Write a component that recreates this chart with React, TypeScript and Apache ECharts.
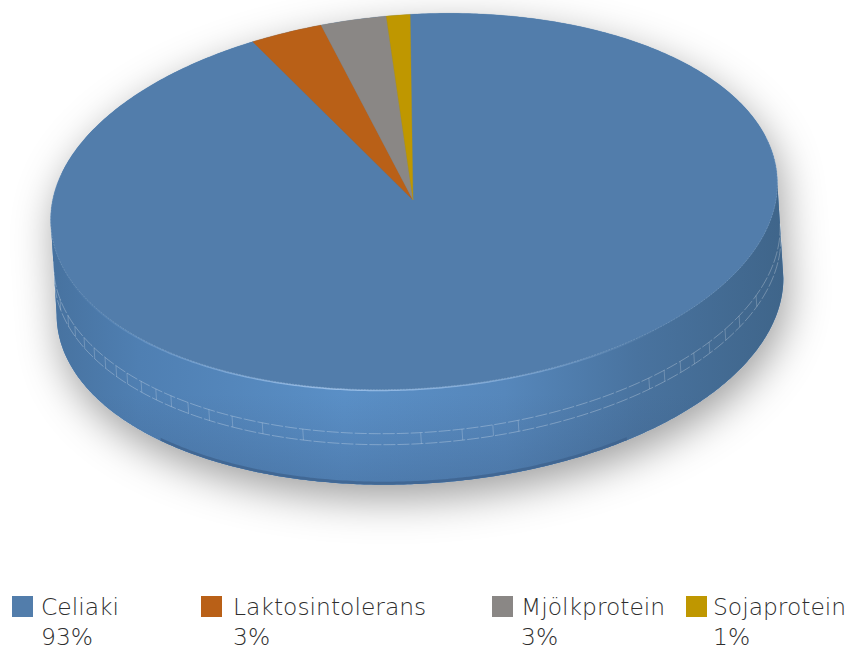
import React, { useEffect, useRef } from "react";
import * as echarts from "echarts";

const categories = ["Celiaki", "Laktosintolerans", "Mjölkprotein", "Sojaprotein"];
const values = [92.85, 3.2, 2.9, 1.05];
const colors = ["#527dab", "#b96017", "#8a8785", "#bf9700"];
const legendLeft = [12, 201, 492, 686];
const percentLeft = [41, 233, 521, 713];
const tickXs = [60, 68, 75, 84, 94, 105, 116, 127, 141, 156, 171, 188, 209, 232, 262, 303, 421, 462, 493, 518, 649, 664, 680, 694, 709, 725, 739, 756];

const FONT = "DejaVu Sans";
const FONT_SIZE = 23.4;
const START = (-88.6 * Math.PI) / 180;
const TILT = 0.068;
const A = 364;
const B = 187;
const CX = 414;
const CY = 201.5;
const DEPTH = 95;
const SHIFT = 6;

type P = [number, number];
const pt = (t: number, d = 0): P => {
  const c = Math.cos(t);
  const s = Math.sin(t);
  const ox = CX + (d * SHIFT) / DEPTH;
  const oy = CY + d;
  return [ox + A * c * Math.cos(TILT) + B * s * Math.sin(TILT), oy - A * c * Math.sin(TILT) + B * s * Math.cos(TILT)];
};
const arc = (t0: number, t1: number, d = 0, step = 0.01): P[] => {
  const n = Math.max(2, Math.ceil(Math.abs(t1 - t0) / step));
  const out: P[] = [];
  for (let i = 0; i <= n; i++) out.push(pt(t0 + ((t1 - t0) * i) / n, d));
  return out;
};
const T_R = Math.atan((B * Math.tan(TILT)) / A);
const T_L = T_R + Math.PI;

const total = values.reduce((a, b) => a + b, 0);
const startOf = (i: number) => {
  let sum = 0;
  for (let k = 0; k < i; k++) sum += values[k];
  return START + (sum / total) * Math.PI * 2;
};

const frontPoint = (x: number, d: number): [number, P] => {
  let best = T_R;
  let bestDist = Infinity;
  for (let t = T_R; t <= T_L; t += 0.002) {
    const dist = Math.abs(pt(t, d)[0] - x);
    if (dist < bestDist) {
      bestDist = dist;
      best = t;
    }
  }
  return [best, pt(best, d)];
};

const lineStyle = (alpha: number, dash?: number[]) => ({
  fill: null as any,
  stroke: `rgba(255,255,255,${alpha})`,
  lineWidth: 0.6,
  lineDash: dash,
});

function renderWall() {
  const outline = [...arc(T_L, T_R + Math.PI * 2), ...arc(T_R, T_L, DEPTH)];
  const band = [...arc(T_R, T_L), ...arc(T_L, T_R, DEPTH)];
  const grad = new echarts.graphic.LinearGradient(0, 0, 1, 0, [
    { offset: 0, color: "#47729f" },
    { offset: 0.12, color: "#4f7fb2" },
    { offset: 0.4, color: "#5a8fc6" },
    { offset: 0.62, color: "#5687bb" },
    { offset: 0.8, color: "#49739f" },
    { offset: 1, color: "#3f658a" },
  ]);
  const shade = new echarts.graphic.LinearGradient(0, 0, 0, 1, [
    { offset: 0, color: "rgba(60,90,130,0)" },
    { offset: 0.7, color: "rgba(60,90,130,0)" },
    { offset: 1, color: "rgba(50,80,120,0.3)" },
  ]);
  const glow = new echarts.graphic.LinearGradient(0, 0, 1, 0, [
    { offset: 0, color: "rgba(150,190,235,0)" },
    { offset: 0.38, color: "rgba(160,195,235,0.9)" },
    { offset: 0.65, color: "rgba(160,195,235,0.5)" },
    { offset: 0.85, color: "rgba(160,195,235,0)" },
    { offset: 1, color: "rgba(160,195,235,0)" },
  ]);
  const rim = [...arc(1.0, 2.4, DEPTH), ...arc(2.4, 1.0, DEPTH - 3)];
  const children: any[] = [
    {
      type: "polygon",
      shape: { points: outline },
      style: { fill: "#4f7dab", shadowBlur: 42, shadowColor: "rgba(0,0,0,0.38)", shadowOffsetY: 14, shadowOffsetX: 4 },
    },
    { type: "polygon", shape: { points: band }, style: { fill: grad } },
    { type: "polygon", shape: { points: band }, style: { fill: shade } },
    { type: "polygon", shape: { points: rim }, style: { fill: "rgba(62,98,140,0.75)" } },
    { type: "polyline", shape: { points: arc(0.3, 2.9, 0) }, style: { fill: null, stroke: glow, lineWidth: 3 } },
    { type: "polyline", shape: { points: arc(T_R - 0.02, T_L + 0.02, 44) }, style: lineStyle(0.45, [12, 2]) },
    { type: "polyline", shape: { points: arc(T_R - 0.02, T_L + 0.02, 55) }, style: lineStyle(0.45, [12, 2]) },
  ];
  tickXs.forEach((x) => {
    const [t] = frontPoint(x, 44);
    children.push({ type: "line", shape: { x1: pt(t, 44)[0], y1: pt(t, 44)[1], x2: pt(t, 55)[0], y2: pt(t, 55)[1] }, style: lineStyle(0.35) });
  });
  return { type: "group", children };
}

const renderSlice = (i: number) => (_p: any, api: any) => {
  const sweep = (api.value(0) / total) * Math.PI * 2;
  const s = startOf(i);
  const points: P[] = [[CX - 1, CY - 1.5], ...arc(s, s + sweep)];
  return {
    type: "polygon",
    shape: { points },
    style: { fill: colors[i], stroke: colors[i], lineWidth: 0.3 },
  };
};

function renderEdge() {
  return {
    type: "polyline",
    shape: { points: arc(T_R - 0.25, T_L + 0.25) },
    style: lineStyle(0.25, [2, 1]),
  };
}

export default function App() {
  const ref = useRef<HTMLDivElement>(null);
  useEffect(() => {
    const chart = echarts.init(ref.current!, undefined, { renderer: "svg" });
    chart.setOption({
      animation: false,
      backgroundColor: "#ffffff",
      legend: categories.map((c, i) => ({
        data: [c],
        left: legendLeft[i],
        top: 595,
        padding: 0,
        icon: "rect",
        itemWidth: 21,
        itemHeight: 21,
        itemGap: 0,
        selectedMode: false,
        textStyle: { fontFamily: FONT, fontWeight: 200, fontSize: FONT_SIZE, color: "#2e2e2e", padding: [0, 0, 0, percentLeft[i] - legendLeft[i] - 26] },
      })),
      graphic: categories.map((_, i) => ({
        type: "text",
        left: percentLeft[i],
        top: 625,
        style: { text: `${Math.round(values[i])}%`, fontFamily: FONT, fontWeight: 200, fontSize: FONT_SIZE, fill: "#2e2e2e" },
      })),
      series: [
        { type: "custom", name: "wall", coordinateSystem: "none", silent: true, data: [[1]], renderItem: renderWall },
        ...categories.map((c, i) => ({
          type: "custom",
          name: c,
          coordinateSystem: "none",
          silent: true,
          data: [[values[i]]],
          itemStyle: { color: colors[i] },
          renderItem: renderSlice(i),
        })),
        { type: "custom", name: "edge", coordinateSystem: "none", silent: true, data: [[1]], renderItem: renderEdge },
      ],
    });
    return () => chart.dispose();
  }, []);
  return <div ref={ref} style={{ position: "absolute", left: 0, top: 0, width: 850, height: 650 }} />;
}
